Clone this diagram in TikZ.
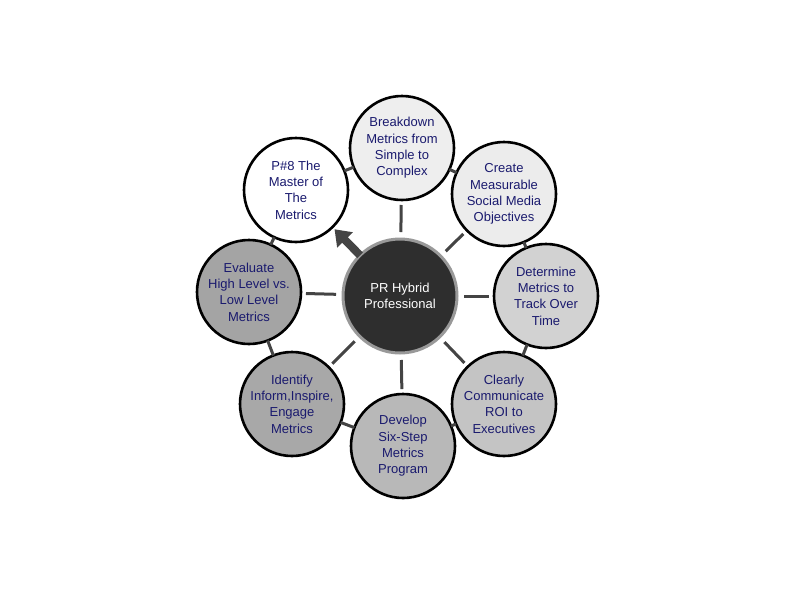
\documentclass[tikz,border=0pt]{standalone}
\usepackage{fontspec}
\setmainfont{Liberation Sans}
\usetikzlibrary{arrows.meta}
\definecolor{navy}{HTML}{1A1A6E}
\definecolor{linkgray}{HTML}{444444}
\definecolor{f1}{HTML}{EEEEEE}
\definecolor{f2}{HTML}{ECECEC}
\definecolor{f3}{HTML}{D2D2D2}
\definecolor{f4}{HTML}{C4C4C4}
\definecolor{f5}{HTML}{B8B8B8}
\definecolor{f6}{HTML}{A8A8A8}
\definecolor{f7}{HTML}{A4A4A4}
\begin{document}
\begin{tikzpicture}[x=1pt,y=-1pt,
  outer/.style={circle,draw=black,line width=2.6pt,minimum size=104pt,inner sep=0pt,outer sep=0pt,
    text=navy,font=\fontsize{13}{16.3}\selectfont,align=center},
  hub/.style={circle,draw=gray!80,fill=black!82,line width=3pt,minimum size=114pt,inner sep=0pt,outer sep=0pt,
    text=white,font=\fontsize{13}{16.3}\selectfont,align=center},
  spoke/.style={draw=linkgray,line width=3pt,shorten <=7pt,shorten >=5pt},
  ring/.style={draw=linkgray,line width=3pt}]
\useasboundingbox (0,0) rectangle (794,595);
\fill[white] (0,0) rectangle (794,595);
\node[hub] (c) at (400,296) {PR Hybrid\\Professional};
\node[outer,fill=f1] (n1) at (402,148) {Breakdown\\Metrics from\\Simple to\\Complex};
\node[outer,fill=f2] (n2) at (504,194) {Create\\Measurable\\Social Media\\Objectives};
\node[outer,fill=f3] (n3) at (546,296) {Determine\\Metrics to\\Track Over\\Time};
\node[outer,fill=f4] (n4) at (504,404) {Clearly\\Communicate\\ROI to\\Executives};
\node[outer,fill=f5] (n5) at (403,446) {Develop\\Six-Step\\Metrics\\Program};
\node[outer,fill=f6] (n6) at (292,404) {Identify\\Inform,Inspire,\\Engage\\Metrics};
\node[outer,fill=f7] (n7) at (249,292) {Evaluate\\High Level vs.\\Low Level\\Metrics};
\node[outer,fill=white] (n8) at (296,190) {P\#8 The\\Master of\\The\\Metrics};
\foreach \a/\b in {n1/n2,n2/n3,n3/n4,n4/n5,n5/n6,n6/n7,n7/n8,n8/n1}
  \draw[ring] (\a) -- (\b);
\foreach \n in {n1,n2,n3,n4,n5,n6,n7}
  \draw[spoke] (c) -- (\n);
\draw[draw=linkgray,line width=8pt,shorten >=3pt,-{Triangle[width=21pt,length=15pt]}] (c) -- (n8);
\end{tikzpicture}
\end{document}
